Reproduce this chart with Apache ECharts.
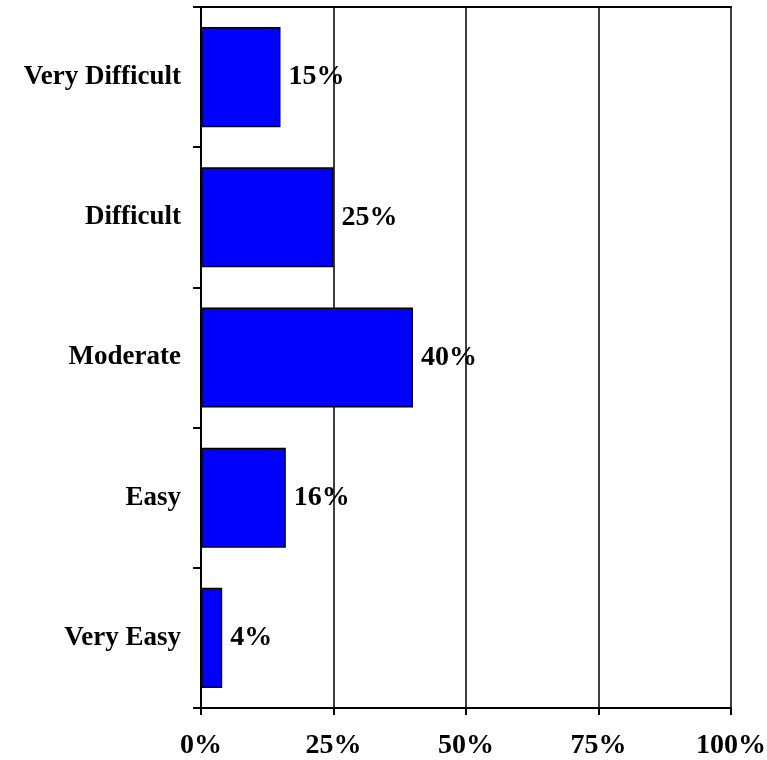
<!DOCTYPE html>
<html>
<head>
<meta charset="utf-8">
<script src="https://cdn.jsdelivr.net/npm/echarts@6/dist/echarts.min.js"></script>
<style>html,body{margin:0;padding:0;background:#fff;}#c{width:767px;height:760px;}</style>
</head>
<body>
<div id="c"></div>
<script>
const categories = ['Very Easy', 'Easy', 'Moderate', 'Difficult', 'Very Difficult'];
const values = [4, 16, 40, 25, 15];
const xTicks = [0, 25, 50, 75, 100];

const font = '"Liberation Serif", "Times New Roman", serif';
const chart = echarts.init(document.getElementById('c'), null, {renderer: 'canvas'});
chart.setOption({
  animation: false,
  backgroundColor: '#ffffff',
  grid: {left: 201, right: 36, top: 7, bottom: 52, containLabel: false, outerBoundsMode: 'none'},
  xAxis: [{
    type: 'value', min: xTicks[0], max: xTicks[xTicks.length - 1], interval: 25,
    axisLine: {show: true, lineStyle: {color: '#000', width: 2}},
    axisTick: {show: true, length: 7, lineStyle: {color: '#000', width: 2}},
    axisLabel: {formatter: v => v + '%', margin: 24, color: '#000', fontFamily: font, fontWeight: 'bold', fontSize: 28},
    splitLine: {show: true, lineStyle: {color: '#000', width: 1.5}}
  }, {
    type: 'value', position: 'top', min: 0, max: 100, interval: 25,
    axisLine: {show: true, onZero: false, lineStyle: {color: '#000', width: 2}},
    axisTick: {show: false}, axisLabel: {show: false}, splitLine: {show: false}
  }],
  yAxis: {
    type: 'category', data: categories,
    axisLine: {show: true, lineStyle: {color: '#000', width: 2}},
    axisTick: {show: true, length: 8, alignWithLabel: false, lineStyle: {color: '#000', width: 2}},
    axisLabel: {margin: 20, color: '#000', fontFamily: font, fontWeight: 'bold', fontSize: 27},
    splitLine: {show: false}
  },
  series: [{
    type: 'bar', data: values, barCategoryGap: '28.6%',
    itemStyle: {color: '#0000FF', borderColor: '#000', borderWidth: 1.5},
    label: {show: true, position: 'right', distance: 8, formatter: '{c}%', color: '#000', fontFamily: font, fontWeight: 'bold', fontSize: 28}
  }]
});
</script>
</body>
</html>
